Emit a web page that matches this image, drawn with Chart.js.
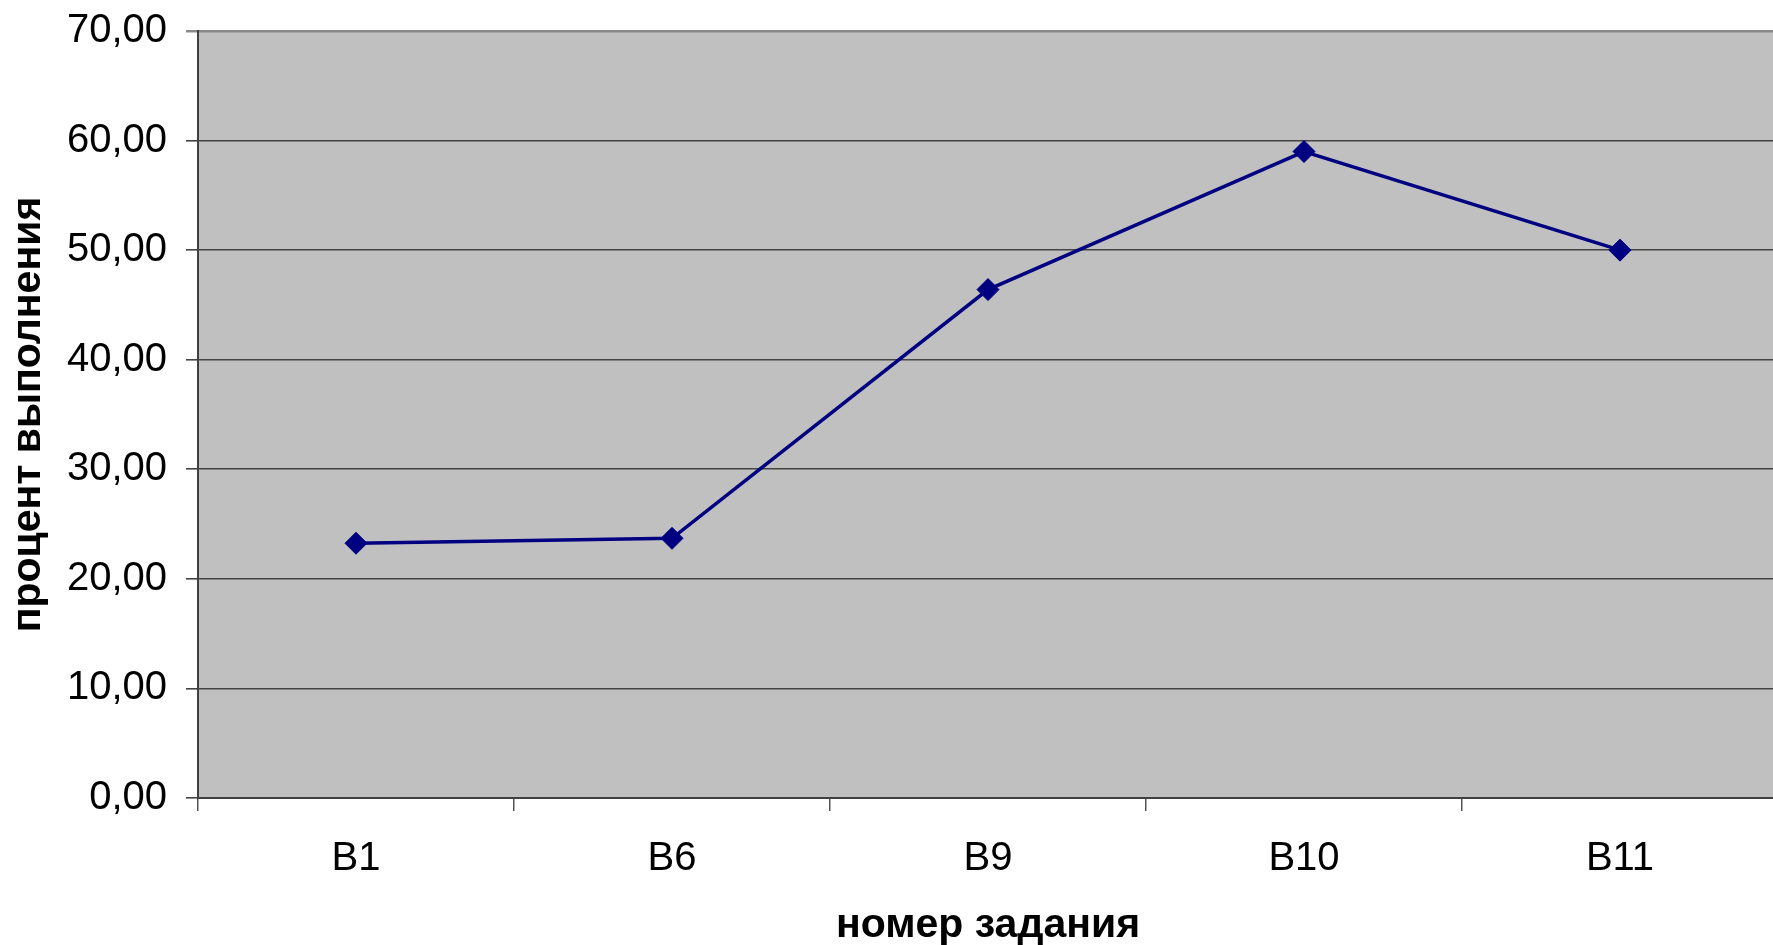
<!DOCTYPE html>
<html>
<head>
<meta charset="utf-8">
<script src="https://cdn.jsdelivr.net/npm/chart.js@4"></script>
<style>
  html, body { margin: 0; padding: 0; background: #fff; overflow: hidden; }
  #wrap { width: 1790px; height: 945px; }
</style>
</head>
<body>
<div id="wrap"><canvas id="taskChart" width="1790" height="945"></canvas></div>
<script>
  // data
  const categories = ["B1", "B6", "B9", "B10", "B11"];
  const percentValues = [23.25, 23.7, 46.4, 59.0, 50.0];
  const yMin = 0;
  const yMax = 70;
  const yStep = 10;

  const fontFamily = "'Liberation Sans', Arial, sans-serif";

  // grey plot background
  const plotBackground = {
    id: "plotBackground",
    beforeDraw(chart) {
      const { ctx, chartArea } = chart;
      ctx.save();
      ctx.fillStyle = "#c0c0c0";
      ctx.fillRect(chartArea.left, chartArea.top, chartArea.right - chartArea.left, chartArea.bottom - chartArea.top);
      ctx.restore();
    },
  };

  const ctx = document.getElementById("taskChart").getContext("2d");
  const taskChart = new Chart(ctx, {
    type: "line",
    data: {
      labels: categories,
      datasets: [
        {
          label: "процент выполнения",
          data: percentValues,
          borderColor: "#000080",
          backgroundColor: "#000080",
          borderWidth: 3.5,
          pointStyle: "rectRot",
          pointRadius: 11,
          pointBorderWidth: 1,
          pointBackgroundColor: "#000080",
          pointBorderColor: "#000080",
          tension: 0,
          fill: false,
        },
      ],
    },
    options: {
      responsive: false,
      devicePixelRatio: 1,
      animation: false,
      layout: {
        padding: { top: 31, right: 2, left: 0, bottom: 0 },
      },
      scales: {
        x: {
          offset: true,
          afterFit: (scale) => { scale.height = 147; },
          grid: {
            offset: true,
            drawOnChartArea: false,
            drawTicks: true,
            tickLength: 13,
            color: "#555",
            lineWidth: 1.5,
          },
          border: { color: "#404040", width: 2 },
          ticks: {
            color: "#000",
            padding: 24,
            font: { family: fontFamily, size: 40 },
          },
          title: {
            display: true,
            text: "номер задания",
            color: "#000",
            padding: { top: 0, bottom: 0 },
            font: { family: fontFamily, size: 41, weight: "bold", lineHeight: 0.95 },
          },
        },
        y: {
          min: yMin,
          max: yMax,
          afterFit: (scale) => { scale.width = 198; },
          grid: {
            tickLength: 12,
            color: (c) => (c.tick && c.tick.value === yMax ? "#8a8a8a" : "#444"),
            lineWidth: (c) => (c.tick && c.tick.value === yMax ? 2.5 : 1.6),
          },
          border: { color: "#404040", width: 2 },
          ticks: {
            stepSize: yStep,
            color: "#000",
            padding: 19,
            font: { family: fontFamily, size: 40, lineHeight: 0.6 },
            callback: (value) => value.toFixed(2).replace(".", ","),
          },
          title: {
            display: true,
            text: "процент выполнения",
            color: "#000",
            padding: { top: 4, bottom: 0 },
            font: { family: fontFamily, size: 41, weight: "bold", lineHeight: 1.2 },
          },
        },
      },
      plugins: {
        legend: { display: false },
        tooltip: { enabled: false },
      },
    },
    plugins: [plotBackground],
  });
</script>
</body>
</html>
